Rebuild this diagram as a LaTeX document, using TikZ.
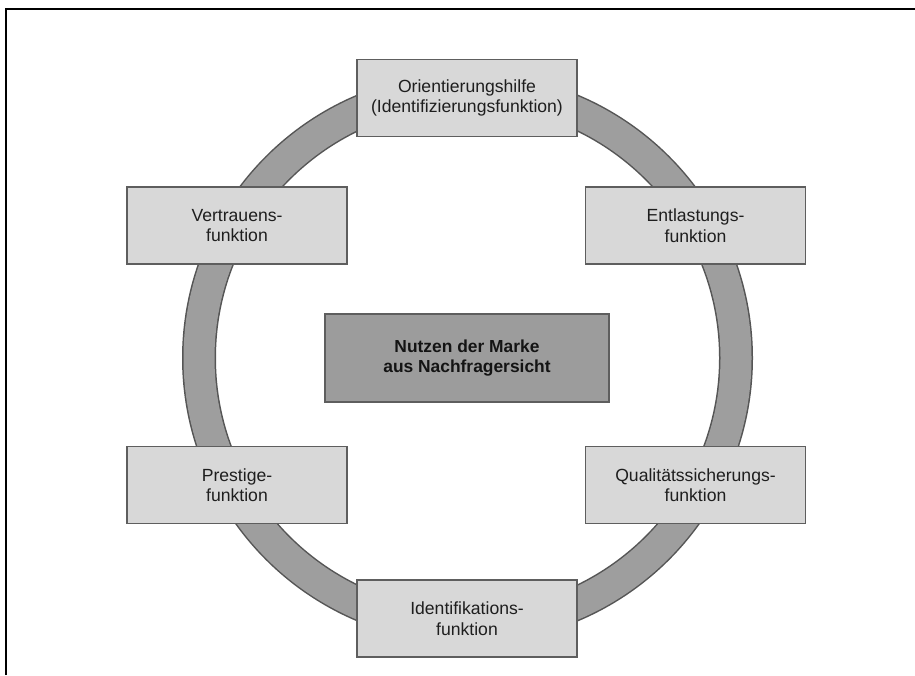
\documentclass[tikz,border=0pt]{standalone}
\usepackage{fontspec}
\setmainfont{Liberation Sans}
\definecolor{boxfill}{HTML}{D8D8D8}
\definecolor{boxedge}{HTML}{5E5E5E}
\definecolor{corefill}{HTML}{9C9C9C}
\definecolor{ringfill}{HTML}{9E9E9E}
\definecolor{ringedge}{HTML}{555555}
\definecolor{txt}{HTML}{1E1E1E}
\tikzset{
  fbox/.style={draw=boxedge, line width=1.5pt, fill=boxfill, minimum width=220pt, minimum height=77pt,
    inner sep=0pt, align=center, text=txt, font=\fontsize{17.6}{20.5}\selectfont},
  corebox/.style={draw=boxedge, line width=1.5pt, fill=corefill, minimum width=284pt, minimum height=88pt,
    inner sep=0pt, align=center, text=black!92, font=\fontsize{17.4}{20.7}\selectfont\bfseries},
}
\begin{document}
\begin{tikzpicture}[x=1pt,y=-1pt]
\useasboundingbox (0,0) rectangle (915,675);
\fill[white] (0,0) rectangle (915,675);
\draw[line width=2.5pt] (6,675) -- (6,9) -- (915,9);
\coordinate (ctr) at (467.5,358);
\draw[ringedge, line width=34pt] (ctr) circle[radius=268.5pt];
\draw[ringfill, line width=31pt] (ctr) circle[radius=268.5pt];
\node[corebox] (core) at (467,358) {Nutzen der Marke\\aus Nachfragersicht};
\node[fbox] (orient) at (467,98) {Orientierungshilfe\\(Identifizierungsfunktion)};
\node[fbox] (vertr) at (237,225.5) {Vertrauens-\\funktion};
\node[fbox] (entl) at (695.5,225.5) {Entlastungs-\\funktion};
\node[fbox] (prest) at (237,485) {Prestige-\\funktion};
\node[fbox] (qual) at (695.5,485) {Qualitätssicherungs-\\funktion};
\node[fbox] (ident) at (467,618.5) {Identifikations-\\funktion};
\end{tikzpicture}
\end{document}
